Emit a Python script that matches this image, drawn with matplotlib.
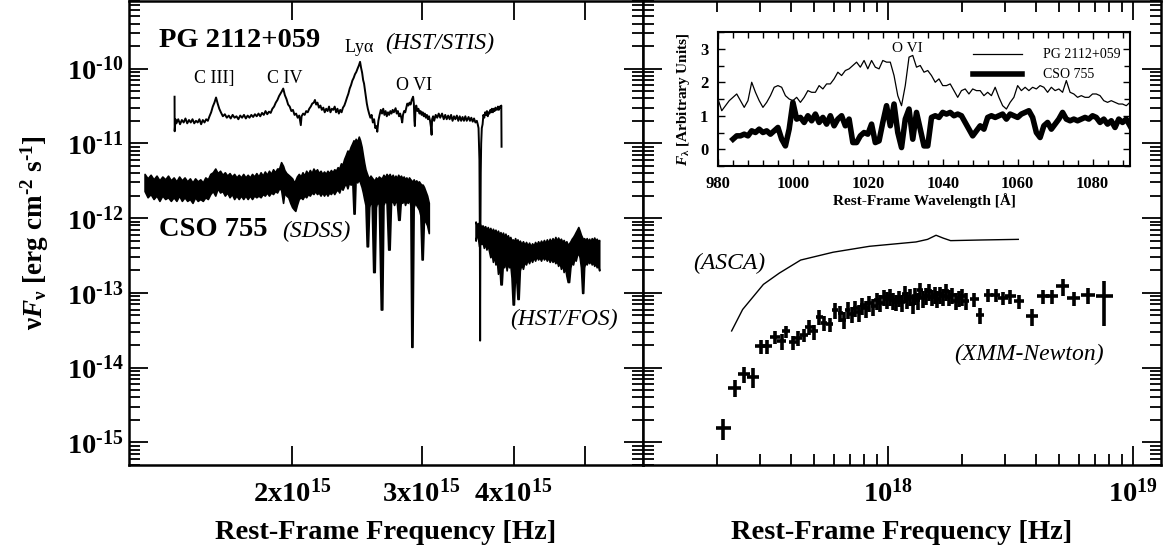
import numpy as np
import matplotlib
matplotlib.use('Agg')
import matplotlib.pyplot as plt
from matplotlib.ticker import (FixedLocator, NullLocator, LogLocator,
                               NullFormatter, FuncFormatter, FixedFormatter,
                               MultipleLocator)

plt.rcParams['font.family'] = 'Liberation Serif'
plt.rcParams['mathtext.fontset'] = 'custom'
plt.rcParams['mathtext.rm'] = 'Liberation Serif:bold'
plt.rcParams['mathtext.it'] = 'Liberation Serif:italic:bold'
plt.rcParams['mathtext.bf'] = 'Liberation Serif:bold'
plt.rcParams['mathtext.default'] = 'rm'

HY = '\u2010'  # short hyphen used in the exponents

# ---- PG 2112+059, HST/STIS (freq in 1e15 Hz, nuFnu in 1e-11)
stis_nu = [1.384, 1.3845, 1.388, 1.392, 1.400, 1.408, 1.416, 1.424, 1.432, 1.440,
           1.448, 1.456, 1.464, 1.472, 1.480, 1.488, 1.496, 1.504, 1.512, 1.520,
           1.528, 1.536, 1.544, 1.552, 1.560, 1.568, 1.576, 1.584, 1.592, 1.600,
           1.61, 1.62, 1.63, 1.64, 1.65, 1.66, 1.67, 1.68, 1.69, 1.70,
           1.71, 1.72, 1.73, 1.74, 1.75, 1.76, 1.77, 1.78, 1.79, 1.80,
           1.81, 1.82, 1.83, 1.84, 1.85, 1.86, 1.87, 1.88, 1.89, 1.90,
           1.91, 1.92, 1.935, 1.945, 1.955, 1.965, 1.975, 1.985, 1.995, 2.005,
           2.015, 2.025, 2.035, 2.045, 2.055, 2.06, 2.07, 2.08, 2.09, 2.10,
           2.11, 2.12, 2.13, 2.14, 2.148, 2.156, 2.165, 2.175, 2.185, 2.195,
           2.205, 2.215, 2.225, 2.235, 2.245, 2.255, 2.265, 2.275, 2.285, 2.295,
           2.305, 2.315, 2.325, 2.335, 2.345, 2.355, 2.365, 2.375, 2.385, 2.395,
           2.405, 2.415, 2.425, 2.435, 2.445, 2.455, 2.465, 2.474, 2.482, 2.490,
           2.498, 2.505, 2.513, 2.520, 2.527, 2.535, 2.545, 2.555, 2.565, 2.575,
           2.585, 2.595, 2.605, 2.611, 2.62, 2.63, 2.64, 2.65, 2.66, 2.67,
           2.68, 2.69, 2.70, 2.71, 2.72, 2.73, 2.74, 2.75, 2.765, 2.775,
           2.785, 2.795, 2.805, 2.815, 2.823, 2.83, 2.84, 2.85, 2.86, 2.868,
           2.878, 2.888, 2.898, 2.908, 2.915, 2.921, 2.928, 2.933, 2.937, 2.943,
           2.95, 2.96, 2.97, 2.98, 2.99, 3.00, 3.01, 3.02, 3.03, 3.04,
           3.05, 3.06, 3.07, 3.08, 3.09, 3.095, 3.10, 3.11, 3.12, 3.135,
           3.15, 3.165, 3.18, 3.198, 3.215, 3.23, 3.245, 3.26, 3.275, 3.29,
           3.305, 3.32, 3.334, 3.35, 3.365, 3.38, 3.395, 3.41, 3.425, 3.44,
           3.455, 3.475, 3.49, 3.505, 3.52, 3.535, 3.55, 3.566, 3.576, 3.585,
           3.595, 3.600, 3.603, 3.606, 3.610, 3.615, 3.622, 3.631, 3.64, 3.65,
           3.66, 3.67, 3.681, 3.69, 3.70, 3.71, 3.72, 3.73, 3.738, 3.75,
           3.76, 3.77, 3.78, 3.797, 3.81, 3.82, 3.83, 3.84, 3.85, 3.853]
stis_flux = [4.2, 1.45, 2.1, 1.85, 2.1, 1.8, 2.05, 1.9, 2.15, 1.85,
             2.05, 1.9, 2.1, 1.85, 2.0, 1.9, 2.1, 1.8, 2.05, 1.9,
             2.1, 2.0, 2.3, 2.6, 3.1, 3.5, 4.1, 3.4, 2.9, 2.6,
             2.3, 2.45, 2.2, 2.35, 2.15, 2.4, 2.2, 2.3, 2.1, 2.35,
             2.2, 2.4, 2.15, 2.35, 2.2, 2.4, 2.25, 2.45, 2.3, 2.5,
             2.3, 2.55, 2.4, 2.7, 2.45, 2.65, 2.55, 2.9, 3.1, 3.5,
             3.8, 4.3, 4.9, 5.4, 4.4, 3.9, 3.3, 3.1, 2.7, 2.8,
             2.4, 2.5, 2.2, 2.35, 1.75, 2.3, 2.5, 2.4, 2.7, 2.6,
             2.9, 3.1, 3.4, 3.5, 3.8, 3.3, 3.5, 3.0, 3.2, 2.8,
             3.0, 2.6, 2.9, 2.7, 3.1, 2.6, 2.9, 2.8, 3.1, 2.6,
             2.9, 2.5, 2.8, 2.6, 3.0, 3.2, 3.6, 4.1, 4.6, 5.4,
             6.0, 6.9, 7.5, 8.4, 9.0, 10.0, 11.0, 12.3, 10.2, 8.8,
             7.0, 6.3, 5.0, 4.0, 3.4, 2.9, 2.5, 2.2, 2.4, 1.9,
             2.1, 1.6, 1.7, 1.43, 2.0, 2.4, 2.8, 2.5, 2.9, 2.4,
             2.7, 2.3, 2.6, 2.4, 2.7, 2.5, 2.8, 2.6, 2.95, 2.5,
             2.7, 2.3, 2.5, 2.2, 1.9, 2.4, 2.7, 2.6, 3.0, 3.4,
             3.2, 3.5, 3.3, 3.8, 4.0, 4.2, 3.4, 2.0, 1.7, 2.9,
             3.2, 2.7, 2.9, 2.5, 2.7, 2.4, 2.6, 2.3, 2.5, 2.2,
             2.4, 2.1, 2.3, 2.0, 1.6, 1.3, 2.1, 2.3, 2.0, 2.4,
             2.2, 2.5, 2.2, 2.5, 2.1, 2.4, 2.1, 2.35, 2.1, 2.4,
             2.0, 2.3, 2.1, 2.35, 2.0, 2.3, 2.0, 2.25, 2.0, 2.3,
             2.0, 2.25, 2.0, 2.2, 1.95, 2.15, 1.9, 2.0, 1.8, 1.6,
             0.6, 0.05, 0.0023, 0.05, 0.4, 1.0, 1.6, 1.8, 2.4, 2.2,
             2.6, 2.4, 2.7, 2.3, 2.6, 2.5, 2.8, 2.6, 2.9, 2.6,
             2.9, 2.7, 3.0, 2.8, 3.1, 2.8, 3.1, 3.0, 3.2, 0.9]

# ---- CSO 755, SDSS (freq 1e15 Hz, envelope of nuFnu in 1e-12)
sdss_nu = [1.260, 1.272, 1.284, 1.296, 1.308, 1.320, 1.332, 1.344, 1.356, 1.368,
           1.380, 1.392, 1.404, 1.416, 1.428, 1.440, 1.452, 1.464, 1.476, 1.488,
           1.500, 1.512, 1.524, 1.536, 1.548, 1.560, 1.572, 1.584, 1.596, 1.608,
           1.620, 1.632, 1.644, 1.656, 1.668, 1.680, 1.692, 1.704, 1.716, 1.728,
           1.740, 1.752, 1.764, 1.776, 1.788, 1.800, 1.812, 1.824, 1.836, 1.848,
           1.860, 1.872, 1.884, 1.896, 1.908, 1.920, 1.932, 1.944, 1.952, 1.964,
           1.976, 1.988, 2.000, 2.012, 2.020, 2.030, 2.042, 2.054, 2.066, 2.078,
           2.090, 2.102, 2.114, 2.126, 2.138, 2.150, 2.162, 2.174, 2.186, 2.198,
           2.210, 2.222, 2.234, 2.246, 2.258, 2.270, 2.282, 2.294, 2.306, 2.318,
           2.330, 2.342, 2.354, 2.366, 2.378, 2.390, 2.402, 2.414, 2.424, 2.432,
           2.440, 2.452, 2.464, 2.474, 2.486, 2.496, 2.506, 2.516, 2.526, 2.536,
           2.546, 2.556, 2.566, 2.578, 2.590, 2.600, 2.612, 2.624, 2.640, 2.652,
           2.662, 2.674, 2.688, 2.702, 2.714, 2.726, 2.740, 2.752, 2.764, 2.776,
           2.788, 2.800, 2.812, 2.824, 2.836, 2.848, 2.860, 2.872, 2.884, 2.896,
           2.905, 2.915, 2.926, 2.938, 2.950, 2.962, 2.975, 2.988, 3.000, 3.010,
           3.022, 3.036, 3.052, 3.068]
sdss_hi = [3.9, 3.4, 3.8, 3.3, 3.7, 3.2, 3.6, 3.3, 3.7, 3.2,
           3.5, 3.1, 3.6, 3.2, 3.5, 3.1, 3.4, 3.0, 3.4, 3.1,
           3.3, 3.0, 3.5, 3.3, 3.9, 4.1, 4.6, 4.0, 4.3, 3.8,
           4.1, 3.7, 4.0, 3.6, 3.9, 3.5, 3.8, 3.5, 3.9, 3.5,
           3.8, 3.5, 3.9, 3.6, 4.0, 3.6, 4.1, 3.7, 4.2, 3.8,
           4.3, 3.9, 4.5, 4.1, 4.6, 4.6, 5.6, 5.0, 4.4, 4.0,
           3.8, 3.6, 3.4, 3.0, 3.2, 3.6, 3.9, 3.6, 4.1, 3.7,
           4.3, 3.9, 4.4, 4.0, 4.6, 4.2, 4.5, 4.0, 4.3, 3.9,
           4.2, 3.9, 4.3, 4.0, 4.4, 4.1, 4.5, 4.3, 4.8, 4.6,
           5.4, 5.2, 6.2, 7.0, 8.0, 7.8, 9.0, 10.0, 11.0, 10.0,
           11.5, 10.5, 12.3, 11.0, 9.0, 7.0, 5.5, 4.5, 4.0, 3.6,
           3.4, 3.7, 3.5, 3.3, 3.2, 3.5, 3.3, 3.6, 3.4, 3.5,
           3.8, 3.5, 3.9, 3.6, 3.9, 3.5, 3.8, 3.4, 3.7, 3.4,
           3.8, 3.5, 3.7, 3.4, 3.6, 3.3, 3.5, 3.2, 3.5, 3.3,
           3.2, 3.0, 3.3, 3.0, 3.2, 3.0, 3.1, 2.9, 2.8, 2.8,
           2.6, 2.3, 2.0, 1.6]
sdss_lo = [2.3, 1.9, 2.1, 1.8, 2.0, 1.7, 2.0, 1.8, 1.9, 1.7,
           1.9, 1.7, 2.0, 1.7, 1.9, 1.7, 1.8, 1.6, 1.9, 1.7,
           1.8, 1.7, 1.9, 1.8, 2.1, 2.3, 2.0, 2.5, 2.2, 2.3,
           2.0, 2.2, 1.9, 2.1, 1.8, 2.0, 1.8, 2.0, 1.8, 2.0,
           1.8, 2.0, 1.8, 2.0, 1.9, 2.0, 1.9, 2.1, 2.0, 2.2,
           2.0, 2.2, 2.1, 2.3, 2.2, 2.5, 2.4, 1.6, 2.2, 2.0,
           1.9, 1.6, 1.4, 1.3, 1.25, 1.5, 1.8, 1.9, 1.8, 2.0,
           1.9, 2.1, 2.0, 2.2, 2.1, 2.3, 2.1, 2.2, 2.0, 2.2,
           2.0, 2.2, 2.0, 2.2, 2.1, 2.3, 2.1, 2.3, 2.4, 2.2,
           2.6, 2.4, 2.7, 2.9, 2.5, 3.0, 2.8, 3.2, 1.15, 1.15,
           3.4, 3.0, 3.3, 3.0, 2.6, 2.2, 1.8, 1.5, 0.42, 0.42,
           1.4, 1.7, 1.5, 0.19, 0.19, 1.4, 1.7, 1.5, 0.06, 0.06,
           1.5, 1.7, 1.6, 0.38, 0.38, 1.6, 1.7, 1.5, 1.7, 1.6,
           0.95, 0.95, 1.8, 1.6, 1.8, 1.5, 1.7, 1.6, 1.8, 1.5,
           0.019, 0.019, 1.4, 1.6, 1.5, 1.4, 1.3, 1.1, 0.28, 0.28,
           1.0, 0.9, 0.8, 0.63]

# ---- CSO 755, HST/FOS (freq 1e15 Hz, envelope of nuFnu in 1e-13)
fos_nu = [3.552, 3.565, 3.578, 3.591, 3.604, 3.617, 3.630, 3.645, 3.660, 3.675,
          3.690, 3.705, 3.720, 3.735, 3.750, 3.765, 3.780, 3.795, 3.810, 3.825,
          3.840, 3.855, 3.870, 3.885, 3.900, 3.915, 3.930, 3.945, 3.960, 3.975,
          3.990, 4.005, 4.020, 4.035, 4.050, 4.065, 4.080, 4.100, 4.120, 4.140,
          4.160, 4.180, 4.200, 4.220, 4.240, 4.260, 4.280, 4.300, 4.320, 4.340,
          4.360, 4.380, 4.400, 4.420, 4.440, 4.460, 4.480, 4.500, 4.520, 4.540,
          4.560, 4.580, 4.600, 4.620, 4.640, 4.660, 4.680, 4.700, 4.720, 4.740,
          4.760, 4.780, 4.800, 4.820, 4.840, 4.860, 4.880, 4.900, 4.920, 4.940,
          4.960, 4.975, 4.990, 5.010, 5.030, 5.050, 5.070, 5.090, 5.110, 5.130,
          5.150, 5.170, 5.190, 5.210, 5.231]
fos_hi = [9.0, 8.0, 8.6, 7.8, 8.2, 7.5, 8.0, 7.4, 7.8, 7.0,
          7.6, 6.8, 7.4, 6.5, 7.2, 6.6, 7.0, 6.2, 6.8, 6.0,
          6.5, 5.8, 6.4, 5.6, 6.2, 5.4, 5.9, 5.2, 5.6, 5.0,
          5.2, 4.8, 5.4, 4.8, 5.2, 4.6, 5.0, 4.5, 4.9, 4.4,
          4.8, 4.3, 4.7, 4.2, 4.6, 4.3, 4.8, 4.4, 4.9, 4.5,
          5.0, 4.6, 5.1, 4.6, 5.2, 4.7, 5.3, 4.8, 5.4, 4.9,
          5.6, 5.0, 5.5, 5.0, 5.3, 4.8, 5.1, 4.6, 4.9, 4.4,
          4.6, 4.9, 5.3, 5.6, 6.0, 6.5, 7.0, 7.6, 6.8, 6.0,
          5.5, 5.2, 5.4, 5.0, 5.4, 4.9, 5.3, 4.8, 5.4, 5.0,
          5.5, 5.0, 5.3, 4.9, 5.1]
fos_lo = [5.0, 6.0, 5.5, 4.2, 5.0, 4.5, 4.8, 4.0, 4.6, 3.8,
          4.4, 3.6, 3.0, 3.4, 2.6, 3.2, 2.4, 2.8, 1.8, 2.6,
          1.3, 1.3, 2.6, 2.2, 2.8, 2.0, 2.6, 2.2, 2.4, 1.6,
          0.7, 0.7, 1.8, 1.5, 0.83, 0.83, 2.0, 2.4, 2.1, 2.6,
          2.4, 2.8, 2.5, 2.9, 2.6, 3.0, 2.7, 3.1, 2.8, 3.0,
          2.7, 3.1, 2.8, 3.0, 2.7, 3.0, 2.6, 2.9, 2.6, 2.8,
          2.5, 2.7, 2.3, 2.6, 2.1, 2.4, 1.9, 2.2, 1.7, 1.4,
          1.4, 2.2, 2.6, 2.4, 2.9, 2.7, 3.2, 3.4, 3.0, 2.2,
          1.0, 1.0, 2.2, 2.6, 2.4, 2.7, 2.5, 2.7, 2.4, 2.6,
          2.3, 2.5, 2.2, 2.4, 2.0]

# ---- ASCA model (freq 1e17 Hz, nuFnu 1e-13)
asca_nu = [2.3, 2.55, 3.1, 3.6, 4.4, 5.97, 8.4, 13.0, 14.5, 15.7, 16.8, 18.0, 24.0, 34.0]
asca_flux = [0.31, 0.60, 1.30, 1.84, 2.75, 3.5, 4.2, 4.8, 5.2, 5.9, 5.4, 5.0, 5.1, 5.2]

# ---- XMM-Newton (freq 1e17 Hz, nuFnu 1e-14, fractional errors)
xmm_nu = [2.13, 2.37, 2.58, 2.81, 3.02, 3.21, 3.46, 3.68, 3.83, 4.10,
          4.30, 4.54, 4.77, 5.00, 5.25, 5.48, 5.77, 6.07, 6.38, 6.60,
          6.85, 7.10, 7.35, 7.60, 7.85, 8.10, 8.40, 8.70, 9.00, 9.30,
          9.60, 9.90, 10.2, 10.5, 10.8, 11.1, 11.4, 11.7, 12.0, 12.3,
          12.6, 12.9, 13.2, 13.5, 13.9, 14.3, 14.7, 15.1, 15.5, 15.9,
          16.3, 16.8, 17.3, 17.8, 18.3, 18.9, 19.5, 20.1, 20.8, 22.5,
          23.7, 25.7, 27.5, 29.5, 31.6, 34.3, 38.7, 42.9, 46.6, 51.6,
          57.2, 65.6, 76.4]
xmm_flux = [0.157, 0.54, 0.83, 0.76, 1.93, 1.93, 2.6, 2.3, 3.05, 2.2,
            2.5, 2.76, 3.55, 3.05, 4.8, 4.0, 3.8, 5.96, 5.4, 4.4,
            6.0, 5.2, 6.3, 5.5, 6.8, 6.2, 7.3, 6.6, 8.0, 7.4,
            8.8, 8.2, 9.0, 8.0, 7.6, 8.6, 7.5, 9.8, 8.2, 8.9,
            7.0, 9.2, 8.0, 11.0, 8.5, 9.2, 10.5, 8.8, 9.5, 8.4,
            9.6, 9.0, 10.5, 8.8, 9.4, 7.9, 8.6, 9.0, 7.9, 8.3,
            5.1, 9.4, 9.4, 8.5, 9.0, 7.7, 4.84, 9.0, 9.0, 12.2,
            8.5, 9.4, 9.0]
xmm_nu_err = [0.07, 0.06, 0.055, 0.055, 0.05, 0.05, 0.045, 0.045, 0.04, 0.04,
              0.035, 0.035, 0.035, 0.035, 0.03, 0.03, 0.03, 0.025] + [0.025] * 41 + \
             [0.04, 0.04, 0.045, 0.045, 0.045, 0.05, 0.05, 0.055, 0.055, 0.055,
              0.06, 0.06, 0.065, 0.08]
xmm_flux_err = [0.32, 0.25, 0.24, 0.30, 0.20, 0.20, 0.20, 0.24, 0.18, 0.22,
                0.22, 0.20, 0.22, 0.22, 0.22, 0.22, 0.22, 0.24] + [0.25] * 41 + \
               [0.22, 0.25, 0.20, 0.20, 0.20, 0.22, 0.22, 0.25, 0.22, 0.22,
                0.25, 0.22, 0.25, 0.60]

# ---- inset: O VI region (wavelength in Angstrom, F_lambda arbitrary)
pg_wave = np.arange(980, 1091)
pg_flam = [1.50, 1.15, 1.30, 1.45, 1.55, 1.65, 1.45, 1.25, 1.45, 2.00,
           1.70, 1.45, 1.25, 1.40, 1.60, 1.85, 1.90, 1.85, 1.60, 1.50,
           1.45, 1.55, 1.40, 1.55, 1.75, 1.70, 1.70, 1.90, 1.80, 1.95,
           1.95, 2.10, 2.30, 2.20, 2.35, 2.40, 2.50, 2.60, 2.45, 2.65,
           2.40, 2.65, 2.45, 2.40, 2.65, 2.60, 2.60, 2.20, 1.60, 1.30,
           1.90, 2.75, 2.80, 2.45, 2.50, 2.30, 2.35, 2.20, 2.00, 2.10,
           1.90, 1.90, 1.95, 1.75, 1.55, 1.75, 1.80, 1.65, 1.80, 1.75,
           1.75, 1.60, 1.70, 1.60, 1.85, 1.55, 1.30, 1.20, 1.40, 1.55,
           1.90, 1.75, 1.85, 1.75, 1.85, 1.80, 1.90, 1.85, 1.70, 1.85,
           1.75, 1.80, 1.70, 2.05, 1.70, 1.65, 1.55, 1.60, 1.55, 1.55,
           1.65, 1.65, 1.60, 1.45, 1.40, 1.45, 1.40, 1.35, 1.35, 1.30,
           1.40]
cso_wave = np.arange(984, 1091)
cso_flam = [0.30, 0.40, 0.40, 0.45, 0.40, 0.55, 0.50, 0.60, 0.50, 0.55,
            0.45, 0.55, 0.65, 0.30, 0.10, 0.60, 1.40, 0.90, 0.95, 0.80,
            1.00, 0.85, 1.05, 0.80, 0.95, 0.75, 1.00, 0.70, 0.90, 1.00,
            0.70, 0.90, 0.20, 0.20, 0.40, 0.50, 0.45, 0.75, 0.20, 0.25,
            0.80, 1.30, 0.70, 1.35, 0.50, 0.05, 0.90, 1.20, 0.30, 1.10,
            0.60, 0.10, 0.10, 0.95, 1.00, 0.95, 1.10, 1.05, 1.10, 1.00,
            1.05, 1.00, 0.80, 0.60, 0.40, 0.55, 0.70, 0.60, 0.95, 1.00,
            0.95, 1.00, 1.05, 0.90, 1.05, 1.00, 0.95, 1.05, 1.10, 1.15,
            0.95, 0.50, 0.35, 0.70, 0.80, 0.60, 0.75, 0.90, 1.10, 0.90,
            0.85, 0.90, 0.85, 0.90, 0.95, 0.90, 1.00, 0.95, 0.80, 0.90,
            0.75, 0.85, 0.65, 0.90, 0.80, 0.90, 0.70]

W, H = 1164, 551
fig = plt.figure(figsize=(W / 100, H / 100), dpi=100)
axL = fig.add_axes([129 / W, 1 - 465 / H, 514 / W, 464 / H])
axR = fig.add_axes([643 / W, 1 - 465 / H, 518 / W, 464 / H])

# left panel: optical / UV
axL.plot(np.array(stis_nu) * 1e15, np.array(stis_flux) * 1e-11, color='black', lw=1.4)
axL.fill_between(np.array(sdss_nu) * 1e15, np.array(sdss_lo) * 1e-12,
                 np.array(sdss_hi) * 1e-12, facecolor='black', lw=1.2, edgecolor='black')
axL.fill_between(np.array(fos_nu) * 1e15, np.array(fos_lo) * 1e-13,
                 np.array(fos_hi) * 1e-13, facecolor='black', lw=1.2, edgecolor='black')

# right panel: X-ray
axR.plot(np.array(asca_nu) * 1e17, np.array(asca_flux) * 1e-13, color='black', lw=1.0)
xn = np.array(xmm_nu) * 1e17
xf = np.array(xmm_flux) * 1e-14
axR.errorbar(xn, xf, xerr=xn * np.array(xmm_nu_err), yerr=xf * np.array(xmm_flux_err),
             fmt='none', ecolor='black', elinewidth=2.6, capsize=0)


def pow10(v, p):
    e = int(round(np.log10(v)))
    s = str(e).replace('-', HY)
    return r'$10^{%s}$' % s


for ax in (axL, axR):
    ax.set_xscale('log')
    ax.set_yscale('log')
    ax.set_ylim(5e-16, 8e-10)
    ax.yaxis.set_major_locator(FixedLocator([1e-15, 1e-14, 1e-13, 1e-12, 1e-11, 1e-10]))
    ax.yaxis.set_minor_locator(LogLocator(base=10, subs=np.arange(2, 10), numticks=20))
    ax.tick_params(which='both', direction='in', top=True, right=True, width=1.3)
    ax.tick_params(which='major', length=14, labelsize=20.5, pad=10)
    ax.tick_params(which='minor', length=8)
    for s in ax.spines.values():
        s.set_linewidth(1.8)

axL.set_xlim(1.2e15, 6.0e15)
axL.xaxis.set_major_locator(FixedLocator([2e15, 3e15, 4e15, 5e15]))
axL.xaxis.set_minor_locator(NullLocator())
axL.xaxis.set_major_formatter(FixedFormatter([r'$\mathrm{2x10^{15}}$', r'$\mathrm{3x10^{15}}$',
                                              r'$\mathrm{4x10^{15}}$', '']))
axL.yaxis.set_major_formatter(FuncFormatter(pow10))
axL.tick_params(axis='y', pad=4)
axL.yaxis.set_minor_formatter(NullFormatter())

axR.set_xlim(1e17, 1.3e19)
axR.xaxis.set_major_locator(FixedLocator([1e18, 1e19]))
axR.xaxis.set_minor_locator(LogLocator(base=10, subs=np.arange(2, 10), numticks=20))
axR.xaxis.set_major_formatter(FuncFormatter(pow10))
axR.xaxis.set_minor_formatter(NullFormatter())
axR.yaxis.set_major_formatter(NullFormatter())
axR.yaxis.set_minor_formatter(NullFormatter())

for ax in (axL, axR):
    ax.set_xlabel('Rest-Frame Frequency [Hz]', fontsize=20.5, fontweight='bold', labelpad=9)

fig.text(35 / W, 1 - 233 / H,
         r'$\mathrm{\nu}\mathit{F}_{\mathrm{\nu}}\ \mathrm{[erg\ cm^{%s2}\ s^{%s1}]}$' % (HY, HY),
         rotation=90, ha='center', va='center', fontsize=19.5)

# annotations, left
axL.text(1.32e15, 2.39e-10, 'PG 2112+059', fontsize=20.5, fontweight='bold', va='center')
axL.text(2.68e15, 2.18e-10, '(HST/STIS)', fontsize=17, style='italic', va='center')
axL.text(2.47e15, 1.93e-10, r'Ly$\mathregular{\alpha}$', fontsize=13, ha='center', va='center')
axL.text(1.569e15, 7.4e-11, 'C III]', fontsize=13, ha='center', va='center')
axL.text(1.954e15, 7.4e-11, 'C IV', fontsize=13, ha='center', va='center')
axL.text(2.928e15, 6.0e-11, 'O VI', fontsize=13, ha='center', va='center')
axL.text(1.32e15, 7.0e-13, 'CSO 755', fontsize=20.5, fontweight='bold', va='center')
axL.text(1.94e15, 6.7e-13, '(SDSS)', fontsize=17, style='italic', va='center')
axL.text(3.96e15, 4.4e-14, '(HST/FOS)', fontsize=17, style='italic', va='center')

# annotations, right
axR.text(1.6e17, 2.5e-13, '(ASCA)', fontsize=17, style='italic', va='center')
axR.text(1.87e18, 1.5e-14, '(XMM-Newton)', fontsize=17, style='italic', va='center')

# inset
axI = fig.add_axes([718 / W, 1 - 166 / H, 412 / W, 134 / H])
axI.plot(pg_wave, pg_flam, color='black', lw=0.9, label='PG 2112+059')
axI.plot(cso_wave, cso_flam, color='black', lw=4.0, label='CSO 755')
axI.set_xlim(980, 1090)
axI.set_ylim(-0.5, 3.5)
axI.xaxis.set_major_locator(MultipleLocator(20))
axI.xaxis.set_minor_locator(MultipleLocator(4))
axI.yaxis.set_major_locator(MultipleLocator(1))
axI.yaxis.set_minor_locator(MultipleLocator(0.5))
axI.tick_params(which='both', direction='in', top=True, right=True, width=1.0, labelsize=12)
axI.tick_params(which='major', length=5, pad=7)
axI.tick_params(which='minor', length=4)
for lab in axI.get_xticklabels() + axI.get_yticklabels():
    lab.set_fontweight('bold')
for s in axI.spines.values():
    s.set_linewidth(1.5)
axI.set_xlabel('Rest-Frame Wavelength [\u00c5]', fontsize=11, fontweight='bold', labelpad=1)
axI.set_ylabel(r'$\mathit{F}_{\mathrm{\lambda}}$ [Arbitrary Units]', fontsize=11,
               fontweight='bold', labelpad=6)
axI.text(1030.5, 3.0, 'O VI', fontsize=11, ha='center', va='center')
axI.legend(loc='upper right', bbox_to_anchor=(1.0, 0.95), frameon=False, fontsize=10,
           handlelength=3.5, handletextpad=1.5, borderaxespad=0.3, labelspacing=0.5)

fig.savefig('out.png', dpi=100)
